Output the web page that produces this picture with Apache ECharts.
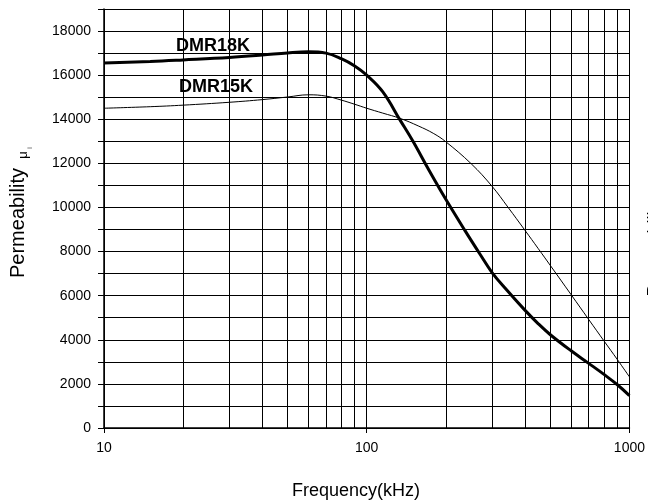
<!DOCTYPE html>
<html>
<head>
<meta charset="utf-8">
<script src="https://cdn.jsdelivr.net/npm/echarts@6/dist/echarts.min.js"></script>
<style>html,body{margin:0;padding:0;background:#fff;}#c{width:648px;height:504px;}</style>
</head>
<body>
<div id="c"></div>
<script>
var freq18 = [10, 15, 20, 30, 40, 50, 60, 70, 80, 90, 100, 115, 134, 150, 172, 200, 237, 270, 300, 340, 400, 450, 500, 600, 700, 800, 900, 1000];
var dmr18k = [16550, 16620, 16690, 16800, 16910, 17010, 17060, 17000, 16750, 16420, 16000, 15250, 13960, 13000, 11720, 10370, 8940, 7880, 7050, 6280, 5345, 4725, 4230, 3500, 2930, 2430, 1960, 1470];
var freq15 = [10, 15, 20, 30, 40, 50, 60, 70, 80, 90, 100, 115, 134, 157, 180, 200, 250, 300, 345, 400, 450, 500, 600, 700, 800, 900, 1000];
var dmr15k = [14500, 14570, 14640, 14770, 14890, 15010, 15110, 15050, 14870, 14680, 14500, 14280, 14040, 13700, 13350, 12980, 11980, 10960, 10010, 8970, 8130, 7370, 6045, 4920, 3950, 3100, 2320];
var minorFreq = [20, 30, 40, 50, 60, 70, 80, 90, 200, 300, 400, 500, 600, 700, 800, 900];
var xLabels = [10, 100, 1000];

function pairs(xs, ys) { return xs.map(function (x, i) { return [x, ys[i]]; }); }

var FONT = 'Liberation Sans, Arial, sans-serif';
var chart = echarts.init(document.getElementById('c'), null, { renderer: 'canvas' });
chart.setOption({
  animation: false,
  backgroundColor: '#fff',
  grid: { left: 104, right: 16, top: 9, bottom: 76, containLabel: false },
  xAxis: {
    type: 'log', logBase: 10, min: 10, max: 1000,
    axisLine: { show: true, lineStyle: { color: '#000', width: 1.5 } },
    axisTick: { show: true, inside: false, length: 5, lineStyle: { color: '#000', width: 1 } },
    splitLine: { show: true, lineStyle: { color: '#000', width: 1 } },
    axisLabel: {
      fontFamily: FONT, fontSize: 14, color: '#000', margin: 13,
      formatter: function (v) { return xLabels.indexOf(Math.round(v)) >= 0 ? String(Math.round(v)) : ''; }
    }
  },
  yAxis: {
    type: 'value', min: 0, max: 19000, interval: 1000,
    axisLine: { show: true, lineStyle: { color: '#000', width: 1.5 } },
    axisTick: { show: true, inside: false, length: 6, lineStyle: { color: '#000', width: 1 } },
    splitLine: { show: true, lineStyle: { color: '#000', width: 1 } },
    axisLabel: {
      fontFamily: FONT, fontSize: 14, color: '#000', margin: 13,
      formatter: function (v) { return v % 2000 === 0 ? String(v) : ''; }
    }
  },
  series: [
    {
      name: 'DMR18K', type: 'line', data: pairs(freq18, dmr18k),
      smooth: 0.4, symbol: 'none', z: 5,
      lineStyle: { color: '#000', width: 3 },
      markLine: {
        silent: true, symbol: 'none', label: { show: false },
        lineStyle: { color: '#000', width: 1, type: 'solid' },
        data: minorFreq.map(function (f) { return { xAxis: f }; })
      }
    },
    {
      name: 'DMR15K', type: 'line', data: pairs(freq15, dmr15k),
      smooth: 0.4, symbol: 'none', z: 5,
      lineStyle: { color: '#000', width: 1 }
    }
  ],
  graphic: [
    { type: 'text', x: 213, y: 46, z: 10, style: { text: 'DMR18K', font: 'bold 18px ' + FONT, fill: '#000', align: 'center', verticalAlign: 'middle' } },
    { type: 'text', x: 216, y: 87, z: 10, style: { text: 'DMR15K', font: 'bold 18px ' + FONT, fill: '#000', align: 'center', verticalAlign: 'middle' } },
    { type: 'text', x: 356, y: 491, style: { text: 'Frequency(kHz)', font: '18px ' + FONT, fill: '#000', align: 'center', verticalAlign: 'middle' } },
    { type: 'text', x: 18, y: 223, rotation: Math.PI / 2, style: { text: 'Permeability', font: '20px ' + FONT, fill: '#000', align: 'center', verticalAlign: 'middle' } },
    { type: 'text', x: 23, y: 155, rotation: Math.PI / 2, style: { text: 'μ', font: '13px ' + FONT, fill: '#000', align: 'center', verticalAlign: 'middle' } },
    { type: 'text', x: 30, y: 148, rotation: Math.PI / 2, style: { text: 'i', font: '7px ' + FONT, fill: '#000', align: 'center', verticalAlign: 'middle' } },
    { type: 'text', x: 655, y: 247, rotation: Math.PI / 2, style: { text: 'Permeability', font: '18px ' + FONT, fill: '#000', align: 'center', verticalAlign: 'middle' } }
  ]
});
</script>
</body>
</html>
